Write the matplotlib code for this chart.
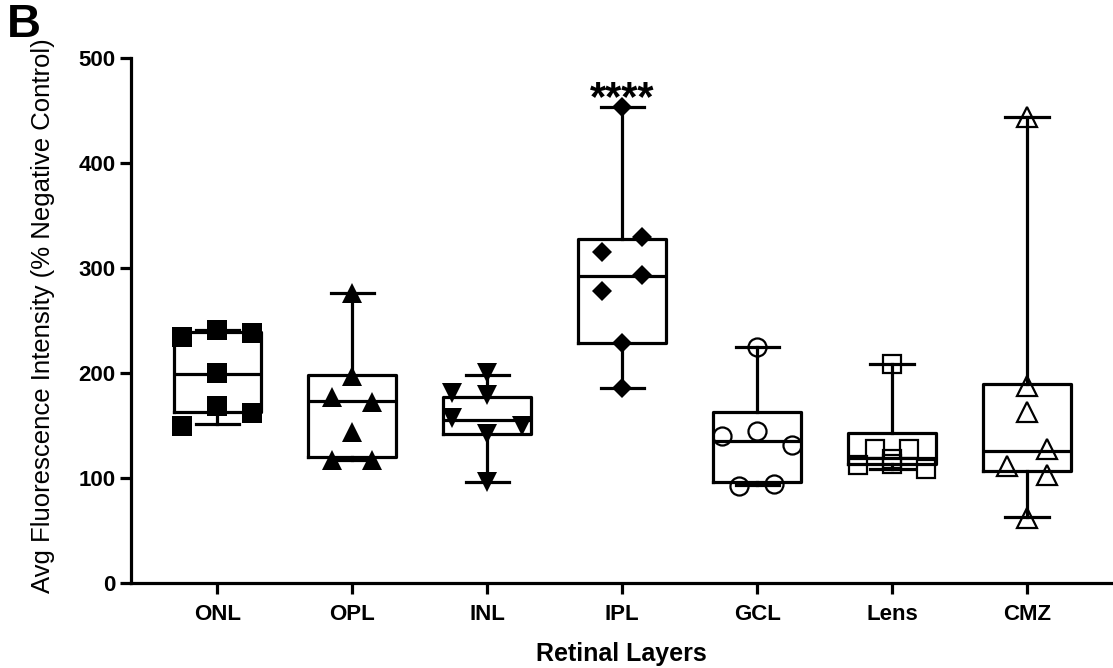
import matplotlib
matplotlib.use("Agg")
import matplotlib.pyplot as plt
import numpy as np

plt.rcParams['font.family'] = ['Liberation Sans', 'DejaVu Sans']

# ---- data ----
categories = ['ONL', 'OPL', 'INL', 'IPL', 'GCL', 'Lens', 'CMZ']

whisker_low = [151, 117, 96, 186, 93, 109, 63]
q1 = [163, 120, 142, 229, 96, 113, 107]
median = [199, 173, 155, 292, 135, 119, 126]
q3 = [239, 198, 177, 328, 163, 143, 190]
whisker_high = [241, 276, 198, 453, 225, 209, 444]

onl = [234, 241, 238, 200, 169, 162, 150]
opl = [276, 197, 177, 172, 144, 117, 117]
inl = [200, 179, 181, 157, 150, 142, 96]
ipl = [453, 330, 315, 293, 278, 229, 186]
gcl = [225, 140, 145, 131, 92, 94]
lens = [209, 128, 128, 118, 113, 112, 109]
cmz = [444, 188, 163, 128, 111, 103, 62]

# horizontal scatter offsets of points (layout only, in pixels of 135 px category spacing)
onl_off = [-35, 0, 35, 0, 0, 35, -35]
opl_off = [0, 0, -20, 20, 0, -20, 20]
inl_off = [0, 0, -35, -35, 35, 0, 0]
ipl_off = [0, 20, -20, 20, -20, 0, 0]
gcl_off = [0, -35, 0, 35, -18, 17]
lens_off = [0, -17, 17, 0, 0, -34, 34]
cmz_off = [0, 0, 0, 20, -20, 20, 0]

significance = '****'
significance_group = 3

# ---- figure ----
W, H = 1113, 668
fig = plt.figure(figsize=(W / 100, H / 100), dpi=100)
ax = fig.add_axes([131 / W, 1 - 583 / H, (1112 - 131) / W, 525 / H])

pos = np.arange(len(categories))
stats = []
for i in range(len(categories)):
    stats.append(dict(whislo=whisker_low[i], q1=q1[i], med=median[i],
                      q3=q3[i], whishi=whisker_high[i], fliers=[]))

lw = 2.3
ax.bxp(stats, positions=pos, widths=0.65, showfliers=False,
       boxprops=dict(color='black', linewidth=lw),
       medianprops=dict(color='black', linewidth=lw),
       whiskerprops=dict(color='black', linewidth=lw),
       capprops=dict(color='black', linewidth=lw),
       capwidths=0.32, manage_ticks=False, zorder=2)

groups = [
    (onl, onl_off, dict(marker='s', ms=14, mfc='black', mec='black', mew=0)),
    (opl, opl_off, dict(marker='^', ms=14, mfc='black', mec='black', mew=0)),
    (inl, inl_off, dict(marker='v', ms=14, mfc='black', mec='black', mew=0)),
    (ipl, ipl_off, dict(marker='D', ms=10, mfc='black', mec='black', mew=0)),
    (gcl, gcl_off, dict(marker='o', ms=13, mfc='none', mec='black', mew=1.6)),
    (lens, lens_off, dict(marker='s', ms=13, mfc='none', mec='black', mew=1.6)),
    (cmz, cmz_off, dict(marker='^', ms=14, mfc='none', mec='black', mew=1.6)),
]
for i, (vals, offs, style) in enumerate(groups):
    xs = pos[i] + np.array(offs) / 135.0
    ax.plot(xs, vals, linestyle='none', zorder=3, clip_on=False, **style)

ax.text(pos[significance_group], 450, significance, ha='center', va='baseline',
        fontsize=30, fontweight='bold')

ax.set_xlim(-0.64, 6.63)
ax.set_ylim(0, 500)
ax.set_yticks([0, 100, 200, 300, 400, 500])
ax.set_xticks(pos)
ax.set_xticklabels(categories)

for s in ['top', 'right']:
    ax.spines[s].set_visible(False)
for s in ['left', 'bottom']:
    ax.spines[s].set_linewidth(2.3)

ax.tick_params(axis='both', direction='out', width=2.3, labelsize=16)
ax.tick_params(axis='y', length=8, pad=3)
ax.tick_params(axis='x', length=8, pad=7)
for lab in ax.get_xticklabels() + ax.get_yticklabels():
    lab.set_fontweight('bold')

ax.set_xlabel('Retinal Layers', fontsize=18, fontweight='bold', labelpad=12)
ax.set_ylabel('Avg Fluorescence Intensity (% Negative Control)', fontsize=18.5)
ax.yaxis.set_label_coords(-0.077, 0.51)

fig.text(0.006, 0.995, 'B', fontsize=34, fontweight='bold', ha='left', va='top')

fig.savefig('out.png', dpi=100)
